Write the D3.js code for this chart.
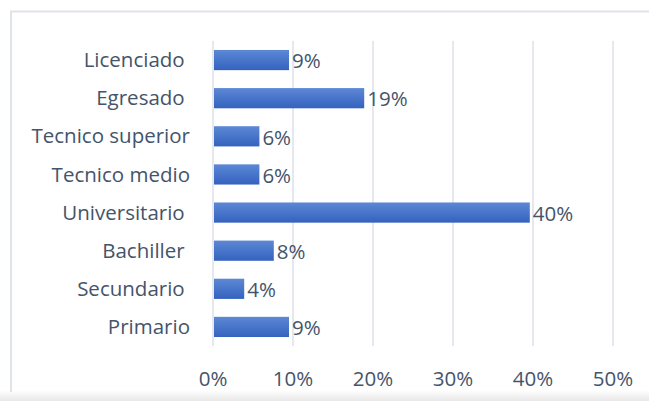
<!DOCTYPE html>
<html>
<head>
<meta charset="utf-8">
<script src="https://cdn.jsdelivr.net/npm/d3@7"></script>
<style>
  body { margin: 0; background: #fff; }
  text { font-family: "Open Sans", Lato, sans-serif; fill: #44546a; white-space: pre; font-size: 20.5px; }
</style>
</head>
<body>
<div id="chart"></div>
<script>
// categories top to bottom
const categories = ["Licenciado ", "Egresado ", "Tecnico superior", "Tecnico medio", "Universitario ", "Bachiller ", "Secundario ", "Primario"];
const values = [9.5, 18.9, 5.8, 5.8, 39.6, 7.6, 3.9, 9.5];
const valueLabels = ["9%", "19%", "6%", "6%", "40%", "8%", "4%", "9%"];
const xTicks = [0, 10, 20, 30, 40, 50];

const W = 649, H = 401;
const margin = { top: 41, right: 36, bottom: 55, left: 213 };

const svg = d3.select("#chart").append("svg")
    .attr("width", W)
    .attr("height", H);

// gradient for bars
const defs = svg.append("defs");
const grad = defs.append("linearGradient")
    .attr("id", "barGrad")
    .attr("x1", 0).attr("y1", 0).attr("x2", 0).attr("y2", 1);
grad.append("stop").attr("offset", "0%").attr("stop-color", "#5d88d6");
grad.append("stop").attr("offset", "100%").attr("stop-color", "#3462be");

const shadow = defs.append("linearGradient")
    .attr("id", "shadowGrad")
    .attr("x1", 0).attr("y1", 0).attr("x2", 0).attr("y2", 1);
shadow.append("stop").attr("offset", "0%").attr("stop-color", "#ffffff");
shadow.append("stop").attr("offset", "100%").attr("stop-color", "#e8e8e8");

// frame
svg.append("rect")
    .attr("x", 0).attr("y", 390).attr("width", W).attr("height", 11)
    .attr("fill", "url(#shadowGrad)");
svg.append("path")
    .attr("d", `M11,392 V11.5 H${W}`)
    .attr("fill", "none")
    .attr("stroke", "#dfe4ea")
    .attr("stroke-width", 2);

const g = svg.append("g")
    .attr("transform", `translate(${margin.left},${margin.top})`);

const xScale = d3.scaleLinear()
    .domain([0, 50])
    .range([0, 400]);

const yScale = d3.scaleBand()
    .domain(categories)
    .range([0, 305])
    .paddingInner(0.47)
    .paddingOuter(0.235);

// gridlines
g.selectAll(".grid")
    .data(xTicks)
    .enter().append("line")
    .attr("class", "grid")
    .attr("x1", d => xScale(d))
    .attr("x2", d => xScale(d))
    .attr("y1", 0)
    .attr("y2", 305)
    .attr("stroke", "#dde2ea")
    .attr("stroke-width", 1.5);

// x tick labels
g.selectAll(".xtick")
    .data(xTicks)
    .enter().append("text")
    .attr("class", "xtick")
    .attr("x", d => xScale(d))
    .attr("y", 345)
    .attr("text-anchor", "middle")
    .text(d => d + "%");

// category labels
g.selectAll(".ylabel")
    .data(categories)
    .enter().append("text")
    .attr("class", "ylabel")
    .attr("x", -23)
    .attr("y", d => yScale(d) + yScale.bandwidth() / 2)
    .attr("dy", "0.35em")
    .attr("text-anchor", "end")
    .text(d => d);

// bars
g.selectAll(".bar")
    .data(values)
    .enter().append("rect")
    .attr("class", "bar")
    .attr("x", xScale(0) + 1)
    .attr("y", (d, i) => yScale(categories[i]))
    .attr("width", d => xScale(d) - 1)
    .attr("height", yScale.bandwidth())
    .attr("fill", "url(#barGrad)");

// value labels
g.selectAll(".vlabel")
    .data(values)
    .enter().append("text")
    .attr("class", "vlabel")
    .attr("x", d => xScale(d) + 3)
    .attr("y", (d, i) => yScale(categories[i]) + yScale.bandwidth() / 2)
    .attr("dy", "0.4em")
    .text((d, i) => valueLabels[i]);
</script>
</body>
</html>
